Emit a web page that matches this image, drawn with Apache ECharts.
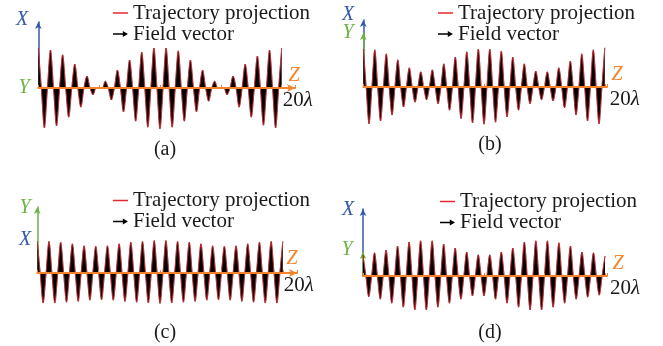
<!DOCTYPE html>
<html><head><meta charset="utf-8">
<script src="https://cdn.jsdelivr.net/npm/echarts@6/dist/echarts.min.js"></script>
<style>html,body{margin:0;padding:0;background:#fff}#c{width:663px;height:346px}</style>
</head><body><div id="c"></div><script>
// ---- data (amplitude of trajectory projection at each quarter-period sample; 0 = axis crossing)
const legendNames = ['Trajectory projection', 'Field vector'];
const captions = ['(a)', '(b)', '(c)', '(d)'];
const endTickLabel = '20λ';

const trajA = [1.0,0,-1.0,0,0.95,0,-0.95,0,0.83,0,-0.73,0,0.6,0,-0.48,0,0.3,0,-0.17,0,0,0,0.17,0,-0.3,0,0.45,0,-0.6,0,0.7,0,-0.83,0,0.9,0,-0.98,0,1.0,0,-1.02,0,1.0,0,-0.98,0,0.93,0,-0.83,0,0.7,0,-0.6,0,0.45,0,-0.33,0,0.17,0,0,0,-0.17,0,0.3,0,-0.48,0,0.6,0,-0.73,0,0.8,0,-0.93,0,0.95,0,-1.0,0,1.0];
const trajB = [0.95,0,-0.92,0,0.93,0,-0.85,0,0.83,0,-0.70,0,0.68,0,-0.50,0,0.48,0,-0.38,0,0.38,0,-0.32,0,0.43,0,-0.42,0,0.58,0,-0.58,0,0.75,0,-0.79,0,0.88,0,-0.90,0,0.95,0,-0.93,0,0.95,0,-0.88,0,0.90,0,-0.75,0,0.75,0,-0.58,0,0.58,0,-0.42,0,0.40,0,-0.32,0,0.38,0,-0.35,0,0.48,0,-0.52,0,0.65,0,-0.70,0,0.83,0,-0.85,0,0.93,0,-0.92,0,0.98];
const trajC = [0.79,0,-0.75,0,0.79,0,-0.75,0,0.77,0,-0.73,0,0.73,0,-0.71,0,0.68,0,-0.68,0,0.67,0,-0.67,0,0.68,0,-0.68,0,0.73,0,-0.71,0,0.77,0,-0.73,0,0.79,0,-0.75,0,0.81,0,-0.76,0,0.81,0,-0.75,0,0.79,0,-0.73,0,0.77,0,-0.71,0,0.73,0,-0.68,0,0.68,0,-0.67,0,0.67,0,-0.68,0,0.68,0,-0.71,0,0.73,0,-0.73,0,0.77,0,-0.75,0,0.79,0,-0.75,0,0.79];
const trajD = [0.53,0,-0.52,0,0.58,0,-0.58,0,0.65,0,-0.68,0,0.75,0,-0.78,0,0.85,0,-0.85,0,0.88,0,-0.85,0,0.88,0,-0.78,0,0.80,0,-0.68,0,0.70,0,-0.58,0,0.60,0,-0.50,0,0.53,0,-0.50,0,0.53,0,-0.58,0,0.60,0,-0.68,0,0.70,0,-0.78,0,0.85,0,-0.85,0,0.88,0,-0.85,0,0.88,0,-0.78,0,0.83,0,-0.68,0,0.75,0,-0.58,0,0.60,0,-0.53,0,0.58,0,-0.48,0,0.50];

// ---- styling / layout
const BLUE = '#3458b0', GREEN = '#6cb244', ORANGE = '#f5832c', RED = '#e8262c';
const SERIF = '"Liberation Serif", "Times New Roman", serif';

const panels = [
  { vals: trajA, ox: 38.3, oy: 88, endIdx: 80, endPx: 281.7, axisEndPx: 295, arrow: true,
    vaxes: [{ c: BLUE, tip: 22 }], lab: [['X', 22, 20, BLUE], ['Y', 24, 88, GREEN]], z: [294, 76],
    leg: [113, 2.5], cap: [165, 150], pad: 1 },
  { vals: trajB, ox: 363.3, oy: 87, endIdx: 84, endPx: 604.8, axisEndPx: 607, arrow: false,
    vaxes: [{ c: BLUE, tip: 20 }, { c: GREEN, tip: 33 }], lab: [['X', 348, 15, BLUE], ['Y', 348, 33, GREEN]], z: [617, 75],
    leg: [438, 2.5], cap: [490, 145], pad: 5 },
  { vals: trajC, ox: 37.3, oy: 273, endIdx: 84, endPx: 282.8, axisEndPx: 297, arrow: true,
    vaxes: [{ c: GREEN, tip: 207 }], lab: [['Y', 25, 208, GREEN], ['X', 25, 240, BLUE]], z: [292, 259],
    leg: [113, 190], cap: [165, 333], pad: 1 },
  { vals: trajD, ox: 363, oy: 276, endIdx: 84, endPx: 605, axisEndPx: 607, arrow: false,
    vaxes: [{ c: BLUE, tip: 209 }, { c: GREEN, tip: 252 }], lab: [['X', 348, 210, BLUE], ['Y', 347, 250, GREEN]], z: [618, 264],
    leg: [440, 191], cap: [490, 333], pad: 5 }
];

const grid = [], xAxis = [], yAxis = [], series = [], legend = [], graphic = [];
panels.forEach((p, pi) => {
  const pxPerIdx = (p.endPx - p.ox) / p.endIdx;
  const width = p.axisEndPx - p.ox;
  const gi = grid.length;
  grid.push({ left: p.ox, top: p.oy - 50, width: width, height: 100 });
  xAxis.push({
    gridIndex: gi, type: 'value', min: 0, max: width / pxPerIdx, interval: p.endIdx / 4, z: 10,
    position: 'bottom', offset: -50,
    axisLine: { onZero: false, symbol: p.arrow ? ['none', 'arrow'] : ['none', 'none'], symbolSize: [6, 8],
      lineStyle: { color: ORANGE, width: 2 } },
    axisTick: { show: true, inside: true, length: 3, lineStyle: { color: ORANGE, width: 1 } },
    splitLine: { show: false },
    axisLabel: {
      show: true, margin: 2, align: 'left', padding: [0, 0, 0, p.pad],
      formatter: v => (Math.abs(v - p.endIdx) < 1e-6 ? '20{i|λ}' : ''),
      fontFamily: SERIF, fontSize: 21, color: '#1a1a1a',
      rich: { i: { fontFamily: SERIF, fontSize: 21, fontStyle: 'italic', color: '#1a1a1a' } }
    }
  });
  yAxis.push({ gridIndex: gi, type: 'value', min: -1.25, max: 1.25, show: false });
  const data = p.vals.map((v, i) => [i, v]);
  series.push({
    name: legendNames[1], type: 'line', xAxisIndex: gi, yAxisIndex: gi, data: data,
    smooth: 0.3, symbol: 'none', showSymbol: false, silent: true, z: 2,
    itemStyle: { color: '#000' }, lineStyle: { width: 0.5, color: '#000' },
    areaStyle: { color: '#000', opacity: 1 }
  });
  series.push({
    name: legendNames[0], type: 'line', xAxisIndex: gi, yAxisIndex: gi, data: data,
    smooth: 0.3, symbol: 'none', showSymbol: false, silent: true, z: 3,
    itemStyle: { color: RED }, lineStyle: { width: 0.8, color: RED }
  });
  p.vaxes.forEach(va => {
    const g2 = grid.length;
    grid.push({ left: p.ox, top: va.tip, width: 10, height: p.oy - va.tip });
    xAxis.push({ gridIndex: g2, type: 'value', min: 0, max: 1, show: false });
    yAxis.push({ gridIndex: g2, type: 'value', min: 0, max: 1, z: 1,
      axisLine: { show: true, onZero: false, symbol: ['none', 'arrow'], symbolSize: [5, 7], lineStyle: { color: va.c, width: 1.5 } },
      axisTick: { show: false }, axisLabel: { show: false }, splitLine: { show: false } });
  });
  legend.push({
    left: p.leg[0], top: p.leg[1], orient: 'vertical', padding: 0, itemGap: 0, itemWidth: 15, itemHeight: 6,
    selectedMode: false, symbolKeepAspect: true,
    data: [
      { name: legendNames[0], icon: 'path://M0,0L16,0L16,1.6L0,1.6Z' },
      { name: legendNames[1], icon: 'path://M0,2.3L8.5,2.3L8.5,0.5L13,3L8.5,5.5L8.5,3.7L0,3.7Z' }
    ],
    textStyle: { fontFamily: SERIF, fontSize: 21, color: '#1a1a1a', lineHeight: 21 }
  });
  p.lab.forEach(l => graphic.push({ type: 'text', x: l[1], y: l[2], silent: true,
    style: { text: l[0], fill: l[3], font: 'italic 20px ' + SERIF, textAlign: 'center', textVerticalAlign: 'middle' } }));
  graphic.push({ type: 'text', x: p.z[0], y: p.z[1], silent: true,
    style: { text: 'Z', fill: ORANGE, font: 'italic 20px ' + SERIF, textAlign: 'center', textVerticalAlign: 'middle' } });
  graphic.push({ type: 'text', x: p.cap[0], y: p.cap[1], silent: true,
    style: { text: captions[pi], fill: '#1a1a1a', font: '20px ' + SERIF, textAlign: 'center', textVerticalAlign: 'middle' } });
});

const chart = echarts.init(document.getElementById('c'), null, { renderer: 'canvas' });
chart.setOption({ animation: false, backgroundColor: '#fff', grid, xAxis, yAxis, series, legend, graphic });
</script></body></html>
